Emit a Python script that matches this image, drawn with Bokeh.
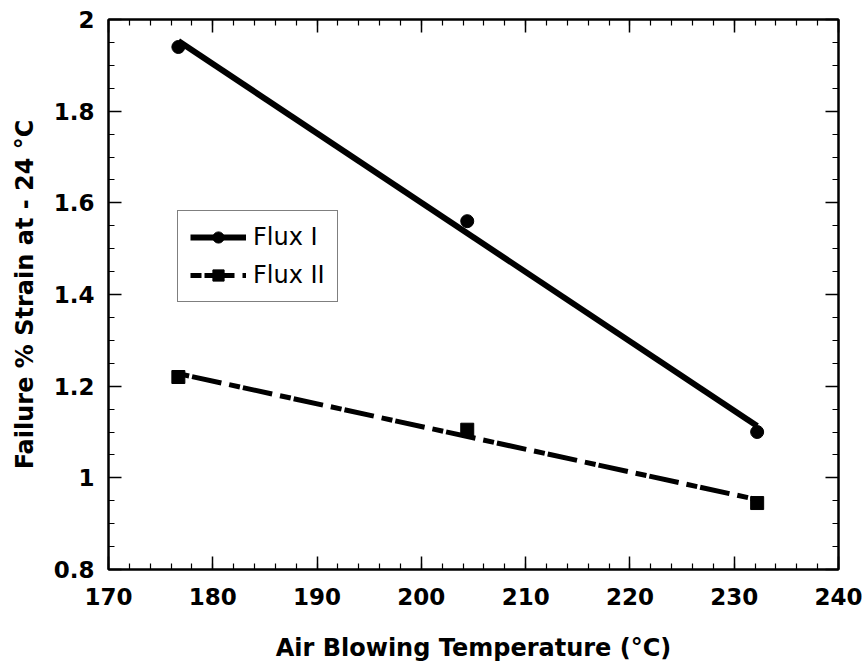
import numpy as np
from bokeh.plotting import figure
from bokeh.models import (FixedTicker, LinearAxis, Legend, LegendItem, Range1d,
                          CustomJSTickFormatter)
from bokeh.embed import file_html
from bokeh.resources import INLINE

# ---- data ----
temp_flux1 = [176.7, 204.4, 232.2]
strain_flux1 = [1.94, 1.56, 1.10]
temp_flux2 = [176.7, 204.4, 232.2]
strain_flux2 = [1.22, 1.105, 0.945]

x_ticks = [170, 180, 190, 200, 210, 220, 230, 240]
x_minor = [170 + 2 * i for i in range(36)]
y_ticks = [0.8, 1.0, 1.2, 1.4, 1.6, 1.8, 2.0]
y_tick_labels = ["0.8", "1", "1.2", "1.4", "1.6", "1.8", "2"]
y_minor = [round(0.8 + 0.05 * i, 2) for i in range(25)]

FONT = "DejaVu Sans"

p = figure(width=867, height=670, output_backend="svg", toolbar_location=None,
           x_range=Range1d(170, 240), y_range=Range1d(0.8, 2.0),
           min_border_left=108, min_border_right=29, min_border_top=19, min_border_bottom=101)
p.background_fill_color = "white"
p.border_fill_color = "white"
p.grid.visible = False
p.outline_line_color = "black"
p.outline_line_width = 2

# regression lines computed from the data
fit1 = np.polyfit(temp_flux1, strain_flux1, 1)
fit2 = np.polyfit(temp_flux2, strain_flux2, 1)
xs1 = [min(temp_flux1), max(temp_flux1)]
xs2 = [min(temp_flux2), max(temp_flux2)]

l1 = p.line(xs1, list(np.polyval(fit1, xs1)), line_color="black", line_width=6)
m1 = p.scatter(temp_flux1, strain_flux1, marker="circle", size=13, fill_color="black", line_color="black")
l2 = p.line(xs2, list(np.polyval(fit2, xs2)), line_color="black", line_width=5, line_dash="11 3 30 8")
m2 = p.scatter(temp_flux2, strain_flux2, marker="square", size=13, fill_color="black", line_color="black")

overrides = {v: s for v, s in zip(y_ticks, y_tick_labels)}


def style(ax):
    ax.axis_line_color = "black"
    ax.axis_line_width = 2
    ax.major_tick_in = 13
    ax.major_tick_out = 0
    ax.minor_tick_in = 6
    ax.minor_tick_out = 0
    ax.major_tick_line_width = 1.5
    ax.minor_tick_line_width = 1.2
    ax.major_label_text_font = FONT
    ax.major_label_text_font_style = "bold"
    ax.major_label_text_font_size = "23px"
    ax.major_label_text_color = "black"
    ax.axis_label_text_font = FONT
    ax.axis_label_text_font_style = "bold"
    ax.axis_label_text_font_size = "24px"
    ax.axis_label_text_color = "black"


xa = p.xaxis[0]
xa.ticker = FixedTicker(ticks=x_ticks, minor_ticks=x_minor)
style(xa)
xa.axis_label = "Air Blowing Temperature (°C)"
xa.major_label_standoff = 18
xa.axis_label_standoff = 26

ya = p.yaxis[0]
ya.ticker = FixedTicker(ticks=y_ticks, minor_ticks=y_minor)
style(ya)
ya.major_label_overrides = overrides
ya.axis_label = "Failure % Strain at - 24 °C"
ya.major_label_standoff = 14
ya.axis_label_standoff = 12


def tick_only(ax):
    style(ax)
    ax.formatter = CustomJSTickFormatter(code="return '';")
    ax.major_label_text_color = None
    ax.major_label_standoff = 0


top = LinearAxis(ticker=FixedTicker(ticks=x_ticks, minor_ticks=x_minor))
tick_only(top)
p.add_layout(top, "above")

right = LinearAxis(ticker=FixedTicker(ticks=y_ticks, minor_ticks=y_minor))
tick_only(right)
p.add_layout(right, "right")

legend = Legend(items=[LegendItem(label="Flux I", renderers=[l1, m1]),
                       LegendItem(label="Flux II", renderers=[l2, m2])],
                location=(69, 267))
legend.label_text_font = FONT
legend.label_text_font_size = "24px"
legend.label_text_color = "black"
legend.glyph_width = 56
legend.glyph_height = 28
legend.label_height = 28
legend.spacing = 10
legend.padding = 12
legend.label_standoff = 7
legend.border_line_color = "black"
legend.border_line_width = 1
legend.background_fill_color = "white"
legend.background_fill_alpha = 1
p.add_layout(legend, "center")

open("out.html", "w").write(file_html(p, INLINE))
